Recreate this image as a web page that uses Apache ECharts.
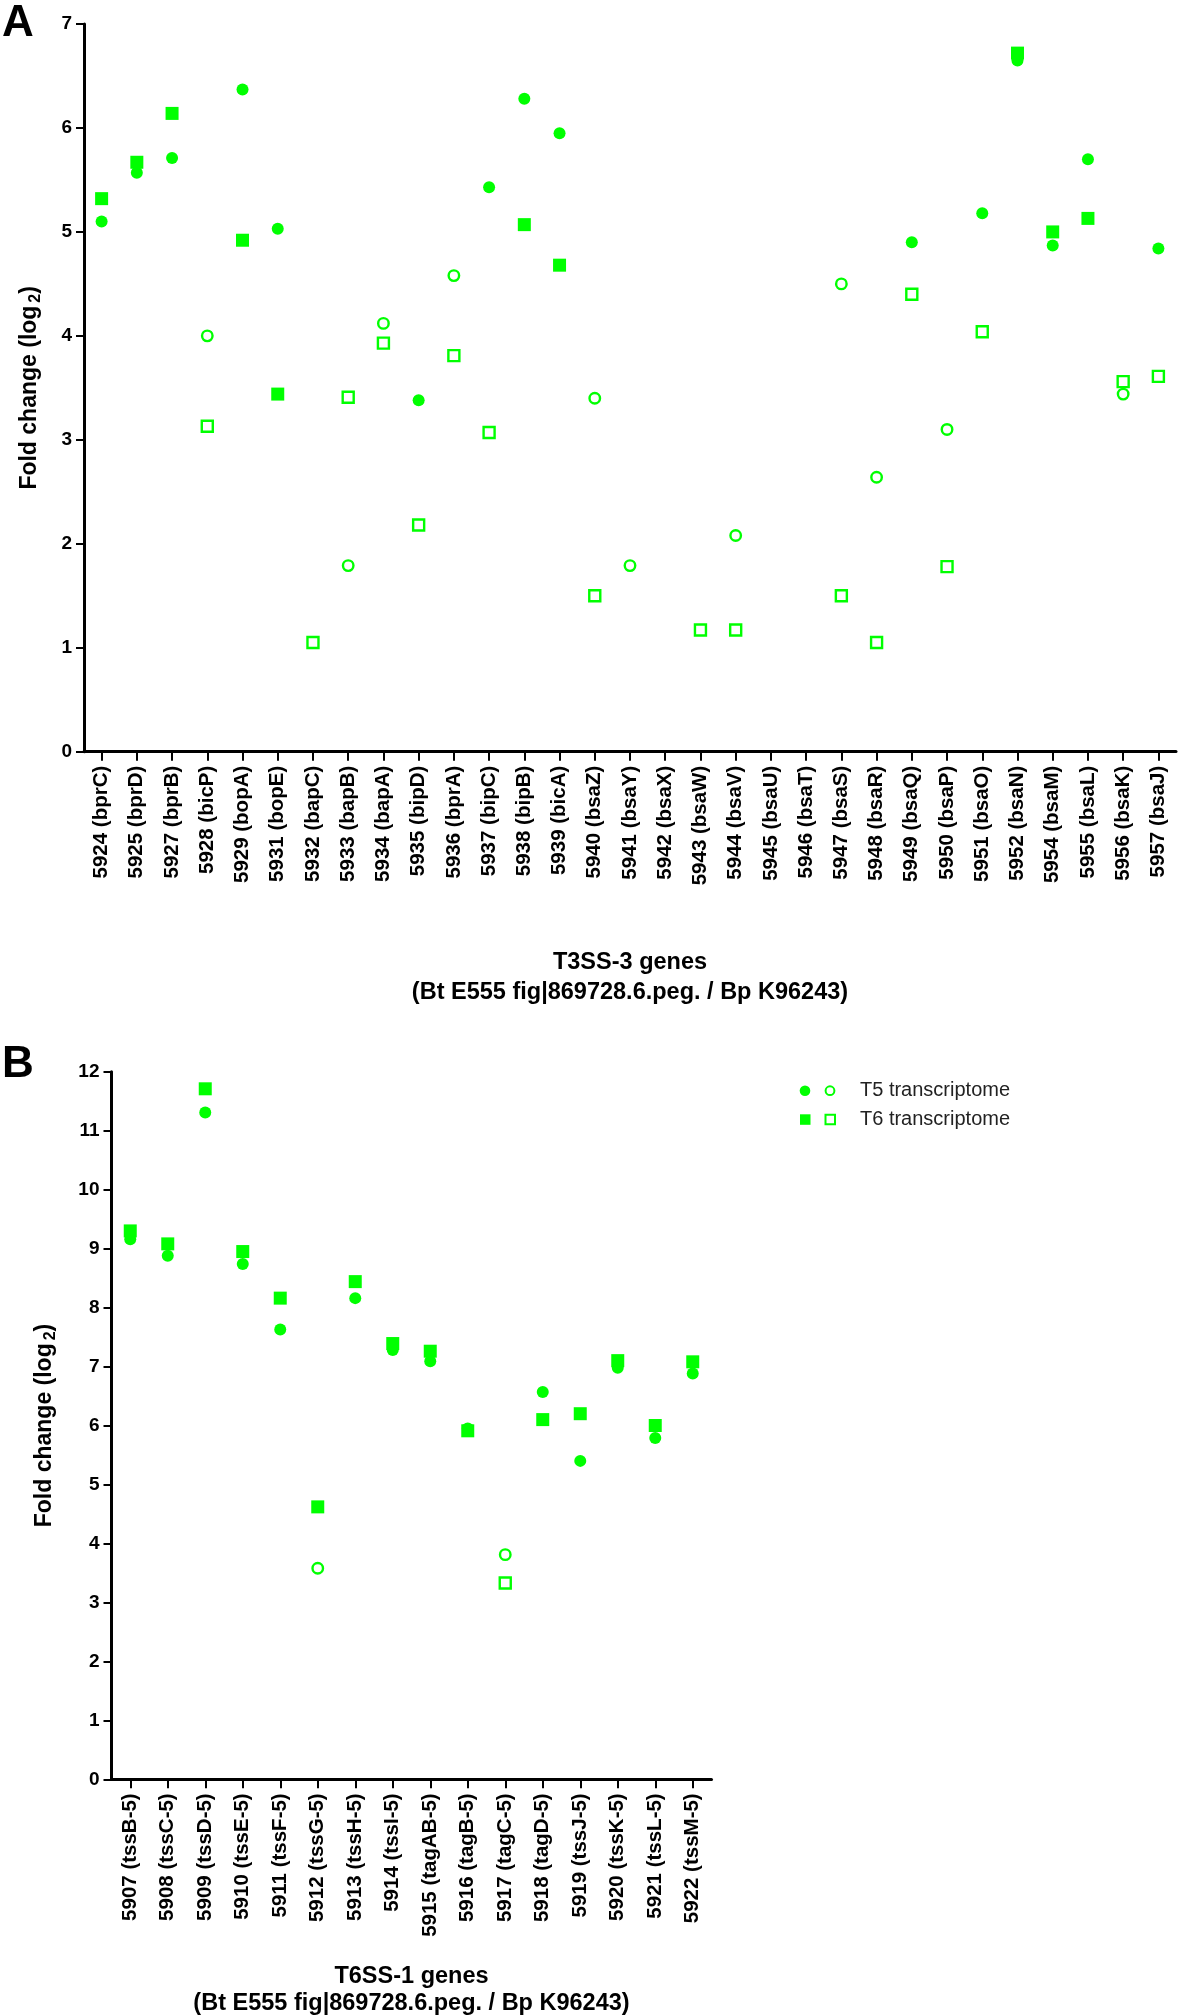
<!DOCTYPE html>
<html><head><meta charset="utf-8">
<script src="https://cdn.jsdelivr.net/npm/echarts@6/dist/echarts.min.js"></script>
<style>html,body{margin:0;padding:0;background:#fff}#c{width:1181px;height:2015px}</style>
</head><body><div id="c"></div>
<script>
// ---------- Panel A: T3SS-3 genes ----------
const catA = ['5924 (bprC)','5925 (bprD)','5927 (bprB)','5928 (bicP)','5929 (bopA)','5931 (bopE)','5932 (bapC)','5933 (bapB)','5934 (bapA)','5935 (bipD)','5936 (bprA)','5937 (bipC)','5938 (bipB)','5939 (bicA)','5940 (bsaZ)','5941 (bsaY)','5942 (bsaX)','5943 (bsaW)','5944 (bsaV)','5945 (bsaU)','5946 (bsaT)','5947 (bsaS)','5948 (bsaR)','5949 (bsaQ)','5950 (bsaP)','5951 (bsaO)','5952 (bsaN)','5954 (bsaM)','5955 (bsaL)','5956 (bsaK)','5957 (bsaJ)'];
const t5A     = [5.10,5.57,5.71,4.00,6.37,5.03,null,1.79,4.12,3.38,4.58,5.43,6.28,5.95,3.40,1.79,null,null,2.08,null,null,4.50,2.64,4.90,3.10,5.18,6.65,4.87,5.70,3.44,4.84];
const t5A_sig = [1,1,1,0,1,1,0,0,0,1,0,1,1,1,0,0,0,0,0,0,0,0,0,1,0,1,1,1,1,0,1];
const t6A     = [5.32,5.67,6.14,3.13,4.92,3.44,1.05,3.41,3.93,2.18,3.81,3.07,5.07,4.68,1.50,null,null,1.17,1.17,null,null,1.50,1.05,4.40,1.78,4.04,6.72,5.00,5.13,3.56,3.61];
const t6A_sig = [1,1,1,0,1,1,0,0,0,0,0,0,1,1,0,0,0,0,0,0,0,0,0,0,0,0,1,1,1,0,0];
const yRangeA = [0, 7];

// ---------- Panel B: T6SS-1 genes ----------
const catB = ['5907 (tssB-5)','5908 (tssC-5)','5909 (tssD-5)','5910 (tssE-5)','5911 (tssF-5)','5912 (tssG-5)','5913 (tssH-5)','5914 (tssI-5)','5915 (tagAB-5)','5916 (tagB-5)','5917 (tagC-5)','5918 (tagD-5)','5919 (tssJ-5)','5920 (tssK-5)','5921 (tssL-5)','5922 (tssM-5)'];
const t5B     = [9.16,8.88,11.31,8.74,7.63,3.58,8.16,7.28,7.09,5.95,3.81,6.57,5.40,6.98,5.79,6.88];
const t5B_sig = [1,1,1,1,1,0,1,1,1,1,0,1,1,1,1,1];
const t6B     = [9.30,9.08,11.71,8.95,8.16,4.62,8.44,7.39,7.26,5.91,3.33,6.10,6.20,7.10,6.00,7.08];
const t6B_sig = [1,1,1,1,1,1,1,1,1,1,0,1,1,1,1,1];
const yRangeB = [0, 12];

const seriesNames = ['T5 transcriptome', 'T6 transcriptome'];
const xTitleA = 'T3SS-3 genes\n(Bt E555 fig|869728.6.peg. / Bp K96243)';
const xTitleB = 'T6SS-1 genes\n(Bt E555 fig|869728.6.peg. / Bp K96243)';
const yTitle = 'Fold change (log{s|2})';

const G = '#00ff00';
const SANS = "'Liberation Sans',Arial,Helvetica,sans-serif";

function pick(vals, sig, want) {
  return vals.map((v, i) => (v !== null && sig[i] === want) ? v : '-');
}

function mkSeries(ax, t5, t5s, t6, t6s) {
  const base = {type: 'scatter', xAxisIndex: ax, yAxisIndex: ax, silent: true, animation: false};
  return [
    Object.assign({}, base, {name: seriesNames[1], symbol: 'rect', symbolSize: 13, data: pick(t6, t6s, 1), itemStyle: {color: G, opacity: 1}, z: 2}),
    Object.assign({}, base, {name: seriesNames[0], symbol: 'circle', symbolSize: 12, data: pick(t5, t5s, 1), itemStyle: {color: G, opacity: 1}, z: 3}),
    Object.assign({}, base, {name: seriesNames[0], symbol: 'circle', symbolSize: 10.5, data: pick(t5, t5s, 0), itemStyle: {color: '#fff', borderColor: G, borderWidth: 2.4, opacity: 1}, z: 4}),
    Object.assign({}, base, {name: seriesNames[1], symbol: 'rect', symbolSize: 11, data: pick(t6, t6s, 0), itemStyle: {color: '#fff', borderColor: G, borderWidth: 2.4, opacity: 1}, z: 5})
  ];
}

function xAxisCfg(gi, cats, title, gap, lh) {
  return {
    type: 'category', gridIndex: gi, data: cats, boundaryGap: true,
    axisLine: {show: true, lineStyle: {color: '#000', width: 3}},
    axisTick: {show: true, alignWithLabel: true, length: 9, lineStyle: {color: '#000', width: 2}},
    axisLabel: {interval: 0, rotate: 90, margin: 14, color: '#000', fontFamily: SANS, fontWeight: 'bold', fontSize: 20.5},
    splitLine: {show: false},
    name: title, nameLocation: 'middle', nameGap: gap,
    nameTextStyle: {color: '#000', fontFamily: SANS, fontWeight: 'bold', fontSize: 23.5, lineHeight: lh}
  };
}
function yAxisCfg(gi, rng, gap) {
  return {
    type: 'value', gridIndex: gi, min: rng[0], max: rng[1], interval: 1,
    axisLine: {show: true, lineStyle: {color: '#000', width: 3}},
    axisTick: {show: true, length: 8, lineStyle: {color: '#000', width: 2}},
    axisLabel: {margin: 12, color: '#000', fontFamily: SANS, fontWeight: 'bold', fontSize: 19},
    splitLine: {show: false},
    name: yTitle, nameLocation: 'middle', nameGap: gap,
    nameTextStyle: {color: '#000', fontFamily: SANS, fontWeight: 'bold', fontSize: 23,
      rich: {s: {fontFamily: SANS, fontWeight: 'bold', fontSize: 16, color: '#000', padding: [12, 0, 0, 3]}}}
  };
}

const chart = echarts.init(document.getElementById('c'), null, {renderer: 'canvas', width: 1181, height: 2015});
const legendFont = "20px 'Liberation Sans', Arial, sans-serif";
chart.setOption({
  backgroundColor: '#fff',
  animation: false,
  grid: [
    {left: 84, top: 24, width: 1092, height: 727.7, containLabel: false, outerBoundsMode: 'none'},
    {left: 111.5, top: 1071.7, width: 600, height: 707.6, containLabel: false, outerBoundsMode: 'none'}
  ],
  xAxis: [xAxisCfg(0, catA, xTitleA, 196, 30), xAxisCfg(1, catB, xTitleB, 184, 27)],
  yAxis: [yAxisCfg(0, yRangeA, 40), yAxisCfg(1, yRangeB, 53)],
  series: mkSeries(0, t5A, t5A_sig, t6A, t6A_sig).concat(mkSeries(1, t5B, t5B_sig, t6B, t6B_sig)),
  graphic: [
    {type: 'text', x: 2, y: 2, style: {text: 'A', fill: '#000', font: "bold 44px 'Liberation Sans', Arial, sans-serif"}},
    {type: 'text', x: 2, y: 1043, style: {text: 'B', fill: '#000', font: "bold 44px 'Liberation Sans', Arial, sans-serif"}},
    {type: 'circle', shape: {cx: 805, cy: 1090.7, r: 5.3}, style: {fill: G}},
    {type: 'circle', shape: {cx: 830, cy: 1090.7, r: 4.4}, style: {fill: '#fff', stroke: G, lineWidth: 2}},
    {type: 'rect', shape: {x: 800, y: 1114.3, width: 10.5, height: 10.5}, style: {fill: G}},
    {type: 'rect', shape: {x: 825.5, y: 1114.8, width: 9.5, height: 9.5}, style: {fill: '#fff', stroke: G, lineWidth: 2}},
    {type: 'text', x: 860, y: 1090.7, style: {text: seriesNames[0], fill: '#222', font: legendFont, verticalAlign: 'middle', textVerticalAlign: 'middle'}},
    {type: 'text', x: 860, y: 1119.3, style: {text: seriesNames[1], fill: '#222', font: legendFont, verticalAlign: 'middle', textVerticalAlign: 'middle'}}
  ]
});
</script>
</body></html>
